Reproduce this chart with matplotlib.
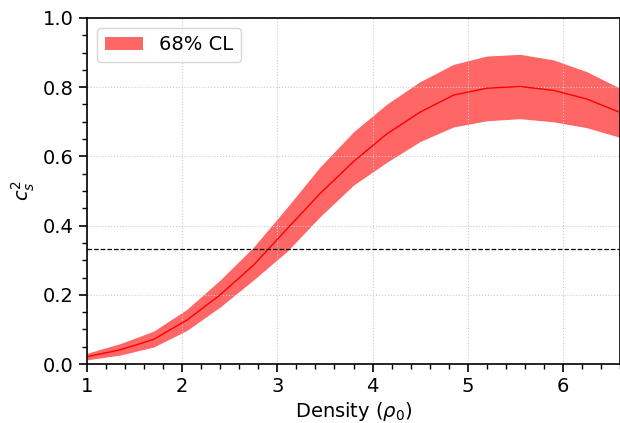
import numpy as np
import matplotlib
matplotlib.use("Agg")
import matplotlib.pyplot as plt
from matplotlib.ticker import MultipleLocator

# 密度格點 (rho_0) 與聲速平方的中位數及 68% 信賴區間
density = [1.0, 1.35, 1.7, 2.05, 2.4, 2.75, 3.1, 3.45, 3.8, 4.15, 4.5,
           4.85, 5.2, 5.55, 5.9, 6.25, 6.6]
cs2_median = [0.021, 0.041, 0.071, 0.127, 0.200, 0.286, 0.390, 0.493, 0.585,
              0.665, 0.728, 0.777, 0.797, 0.802, 0.791, 0.766, 0.727]
cs2_upper = [0.031, 0.059, 0.095, 0.158, 0.243, 0.338, 0.452, 0.570, 0.671,
             0.751, 0.816, 0.866, 0.890, 0.895, 0.879, 0.845, 0.797]
cs2_lower = [0.012, 0.026, 0.049, 0.097, 0.165, 0.243, 0.325, 0.426, 0.517,
             0.583, 0.643, 0.685, 0.703, 0.709, 0.700, 0.683, 0.655]
conformal = 1 / 3

fig = plt.figure(figsize=(6.2, 4.23), dpi=100)
ax = fig.add_axes([87 / 620, 1 - 364 / 423, 1 - 87 / 620, 346 / 423])

ax.fill_between(density, cs2_lower, cs2_upper, color="red", alpha=0.6,
                linewidth=0, label="68% CL")
ax.plot(density, cs2_median, color="red", lw=1)
ax.axhline(conformal, color="black", ls="--", lw=0.9)

ax.set_xlim(1, 6.6)
ax.set_ylim(0, 1)
ax.xaxis.set_major_locator(MultipleLocator(1))
ax.xaxis.set_minor_locator(MultipleLocator(0.2))
ax.yaxis.set_major_locator(MultipleLocator(0.2))
ax.yaxis.set_minor_locator(MultipleLocator(0.05))
ax.tick_params(which="major", labelsize=14, length=6, width=1.2)
ax.tick_params(which="minor", length=3.5, width=1)
for s in ax.spines.values():
    s.set_linewidth(1.2)

ax.grid(True, which="major", ls=":", color="#cccccc", lw=0.8)
ax.set_xlabel(r"Density ($\rho_0$)", fontsize=14, labelpad=3)
ax.set_ylabel(r"$c_s^2$", fontsize=14)
ax.legend(loc="upper left", fontsize=14)

fig.savefig("out.png", dpi=100)
